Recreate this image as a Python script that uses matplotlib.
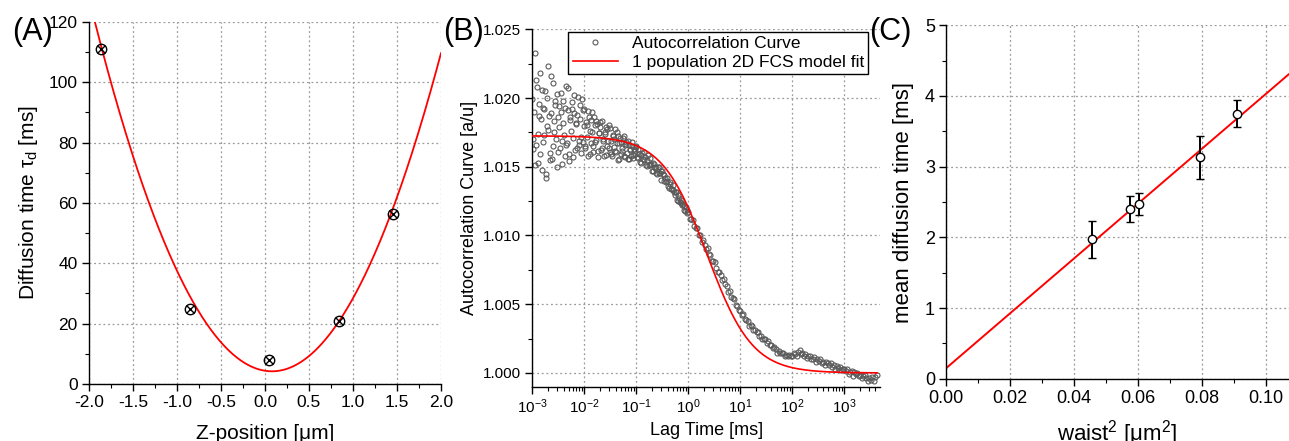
import numpy as np
import matplotlib
matplotlib.use("Agg")
import matplotlib.pyplot as plt
from matplotlib.ticker import MultipleLocator, FormatStrFormatter, LogLocator

plt.rcParams['font.family'] = ['Liberation Sans', 'DejaVu Sans']
plt.rcParams['mathtext.fontset'] = 'custom'
plt.rcParams['mathtext.rm'] = 'Liberation Sans'
plt.rcParams['mathtext.it'] = 'Liberation Sans'
plt.rcParams['mathtext.bf'] = 'Liberation Sans:bold'

# ---- (A) diffusion time vs z-position ----
z_pos = [-1.86, -0.857, 0.045, 0.844, 1.45]
tau_d = [111.2, 24.8, 7.85, 20.9, 56.3]
# parabola fit tau = tau0 + k*(z - z0)^2
fit_a_tau0 = 4.2
fit_a_k = 28.6
fit_a_z0 = 0.08

# ---- (B) autocorrelation curve ----
lag_ms = [
    0.00100, 0.00105, 0.00111, 0.00117, 0.00123, 0.00129, 0.00136, 0.00143, 0.00150, 0.00158,
    0.00167, 0.00175, 0.00184, 0.00194, 0.00204, 0.00215, 0.00226, 0.00238, 0.00251, 0.00264,
    0.00278, 0.00292, 0.00307, 0.00324, 0.00341, 0.00359, 0.00377, 0.00397, 0.00418, 0.00440,
    0.00463, 0.00487, 0.00513, 0.00540, 0.00568, 0.00598, 0.00630, 0.00663, 0.00698, 0.00734,
    0.00773, 0.00813, 0.00856, 0.00901, 0.00949,
    0.0100, 0.0105, 0.0111, 0.0117, 0.0123, 0.0129, 0.0136, 0.0143, 0.0150, 0.0158,
    0.0167, 0.0175, 0.0184, 0.0194, 0.0204, 0.0215, 0.0226, 0.0238, 0.0251, 0.0264,
    0.0278, 0.0292, 0.0307, 0.0324, 0.0341, 0.0359, 0.0377, 0.0397, 0.0418, 0.0440,
    0.0463, 0.0487, 0.0513, 0.0540, 0.0568, 0.0598, 0.0630, 0.0663, 0.0698, 0.0734,
    0.0773, 0.0813, 0.0856, 0.0901, 0.0949,
    0.100, 0.107, 0.114, 0.122, 0.130, 0.139, 0.148, 0.158, 0.169, 0.180,
    0.193, 0.206, 0.220, 0.235, 0.251, 0.268, 0.286, 0.305, 0.326, 0.348,
    0.372, 0.397, 0.424, 0.453, 0.483, 0.516, 0.551, 0.589, 0.628, 0.671,
    0.717, 0.765, 0.817, 0.873, 0.932,
    1.00, 1.07, 1.14, 1.22, 1.30, 1.39, 1.48, 1.58, 1.69, 1.80,
    1.93, 2.06, 2.20, 2.35, 2.51, 2.68, 2.86, 3.05, 3.26, 3.48,
    3.72, 3.97, 4.24, 4.53, 4.83, 5.16, 5.51, 5.89, 6.28, 6.71,
    7.17, 7.65, 8.17, 8.73, 9.32,
    10.0, 10.7, 11.4, 12.2, 13.0, 13.9, 14.8, 15.8, 16.9, 18.0,
    19.3, 20.6, 22.0, 23.5, 25.1, 26.8, 28.6, 30.5, 32.6, 34.8,
    37.2, 39.7, 42.4, 45.3, 48.3, 51.6, 55.1, 58.9, 62.8, 67.1,
    71.7, 76.5, 81.7, 87.3, 93.2,
    100, 107, 114, 122, 130, 139, 148, 158, 169, 180,
    193, 206, 220, 235, 251, 268, 286, 305, 326, 348,
    372, 397, 424, 453, 483, 516, 551, 589, 628, 671,
    717, 765, 817, 873, 932,
    1000, 1070, 1140, 1220, 1300, 1390, 1480, 1580, 1690, 1800,
    1930, 2060, 2200, 2350, 2510, 2680, 2860, 3050, 3260, 3480,
    3720, 3970, 4240,
]
g_acf = [
    1.0199, 1.0170, 1.0233, 1.0166, 1.0208, 1.0153, 1.0187, 1.0218, 1.0148, 1.0193,
    1.0173, 1.0205, 1.0142, 1.0180, 1.0223, 1.0160, 1.0189, 1.0156, 1.0211, 1.0175,
    1.0198, 1.0150, 1.0186, 1.0194, 1.0164, 1.0204, 1.0169, 1.0182, 1.0158, 1.0209,
    1.0167, 1.0191, 1.0154, 1.0184, 1.0197, 1.0171, 1.0202, 1.0162, 1.0181, 1.0188,
    1.0166, 1.0195, 1.0172, 1.0199, 1.0168,
    1.01922, 1.01649, 1.01806, 1.01576, 1.01865, 1.01759, 1.01673, 1.01898, 1.01604, 1.01807,
    1.01693, 1.01813, 1.01611, 1.01744, 1.01827, 1.01635, 1.01703, 1.01576, 1.01750, 1.01786,
    1.01650, 1.01801, 1.01606, 1.01690, 1.01578, 1.01731, 1.01703, 1.01618, 1.01750, 1.01548,
    1.01674, 1.01712, 1.01595, 1.01633, 1.01726, 1.01570, 1.01669, 1.01601, 1.01686, 1.01553,
    1.01626, 1.01654, 1.01565, 1.01630, 1.01590,
    1.01648, 1.01562, 1.01596, 1.01525, 1.01602, 1.01549, 1.01574, 1.01507, 1.01588, 1.01512,
    1.01522, 1.01468, 1.01521, 1.01500, 1.01448, 1.01498, 1.01451, 1.01406, 1.01450, 1.01443,
    1.01387, 1.01396, 1.01346, 1.01391, 1.01336, 1.01333, 1.01297, 1.01317, 1.01254, 1.01272,
    1.01261, 1.01220, 1.01211, 1.01178, 1.01187,
    1.01170, 1.01123, 1.01123, 1.01116, 1.01070, 1.01055, 1.01051, 1.01004, 1.01001, 1.00955,
    1.00966, 1.00934, 1.00903, 1.00909, 1.00868, 1.00859, 1.00817, 1.00812, 1.00808, 1.00763,
    1.00733, 1.00738, 1.00711, 1.00675, 1.00680, 1.00644, 1.00631, 1.00587, 1.00596, 1.00555,
    1.00545, 1.00538, 1.00492, 1.00485, 1.00457,
    1.00449, 1.00422, 1.00426, 1.00389, 1.00388, 1.00379, 1.00344, 1.00346, 1.00341, 1.00310,
    1.00311, 1.00295, 1.00298, 1.00267, 1.00272, 1.00244, 1.00245, 1.00244, 1.00219, 1.00230,
    1.00204, 1.00202, 1.00178, 1.00187, 1.00172, 1.00148, 1.00163, 1.00142, 1.00143, 1.00146,
    1.00120, 1.00129, 1.00120, 1.00133, 1.00120,
    1.00123, 1.00147, 1.00140, 1.00127, 1.00154, 1.00165, 1.00140, 1.00142, 1.00120, 1.00138,
    1.00107, 1.00122, 1.00125, 1.00102, 1.00105, 1.00114, 1.00083, 1.00099, 1.00086, 1.00101,
    1.00072, 1.00082, 1.00061, 1.00082, 1.00070, 1.00059, 1.00075, 1.00046, 1.00057, 1.00031,
    1.00052, 1.00034, 1.00047, 1.00022, 1.00027,
    1.00032, 1.00011, 1.00029, 0.99996, 1.00010, 1.00011, 0.99981, 1.00006, 0.99989, 1.00003,
    0.99976, 0.99984, 0.99963, 0.99981, 0.99984, 0.99961, 0.99945, 0.99966, 0.99948, 0.99968,
    0.99944, 0.99971, 0.99984,
]
# extra (denser) channels in the noisy short-lag region
lag_ms_short = [
    0.00102, 0.00108, 0.00114, 0.00120, 0.00126, 0.00132, 0.00139, 0.00146, 0.00154, 0.00162,
    0.00171, 0.00180, 0.00189, 0.00199, 0.00210, 0.00221, 0.00232, 0.00245, 0.00258, 0.00271,
    0.00285, 0.00300, 0.00316, 0.00332, 0.00350, 0.00368, 0.00387, 0.00408, 0.00429, 0.00451,
    0.00475, 0.00500, 0.00527, 0.00554, 0.00583, 0.00614, 0.00646, 0.00680, 0.00716, 0.00754,
    0.00793, 0.00835, 0.00878, 0.00925, 0.00974,
    0.0102, 0.0108, 0.0114, 0.0120, 0.0126, 0.0132, 0.0139, 0.0146, 0.0154, 0.0162,
    0.0171, 0.0180, 0.0189, 0.0199, 0.0210, 0.0221, 0.0232, 0.0245, 0.0258, 0.0271,
    0.0285, 0.0300, 0.0316, 0.0332, 0.0350, 0.0368, 0.0387, 0.0408, 0.0429, 0.0451,
    0.0475, 0.0500, 0.0527, 0.0554, 0.0583, 0.0614, 0.0646, 0.0680, 0.0716, 0.0754,
    0.0793, 0.0835, 0.0878, 0.0925, 0.0974,
    0.103, 0.110, 0.118, 0.126, 0.134, 0.143, 0.153, 0.163, 0.174, 0.186,
    0.199, 0.213, 0.227, 0.243, 0.259, 0.277, 0.295, 0.315, 0.337, 0.360,
    0.384, 0.410, 0.438, 0.468, 0.500, 0.533, 0.570, 0.608, 0.649, 0.694,
    0.741, 0.791, 0.845, 0.902, 0.964,
]
g_acf_short = [
    1.0163, 1.0190, 1.0151, 1.0213, 1.0174, 1.0196, 1.0159, 1.0185, 1.0206, 1.0168,
    1.0192, 1.0145, 1.0200, 1.0177, 1.0187, 1.0155, 1.0216, 1.0165, 1.0183, 1.0195,
    1.0170, 1.0203, 1.0161, 1.0179, 1.0190, 1.0152, 1.0198, 1.0173, 1.0193, 1.0166,
    1.0207, 1.0159, 1.0186, 1.0176, 1.0192, 1.0157, 1.0189, 1.0182, 1.0164, 1.0201,
    1.0169, 1.0185, 1.0160, 1.0191, 1.0180,
    1.01634, 1.01827, 1.01718, 1.01905, 1.01593, 1.01843, 1.01756, 1.01654, 1.01860, 1.01681,
    1.01833, 1.01568, 1.01747, 1.01788, 1.01622, 1.01836, 1.01689, 1.01741, 1.01587, 1.01772,
    1.01689, 1.01633, 1.01783, 1.01591, 1.01723, 1.01647, 1.01772, 1.01607, 1.01671, 1.01722,
    1.01557, 1.01681, 1.01615, 1.01712, 1.01581, 1.01655, 1.01678, 1.01556, 1.01660, 1.01621,
    1.01577, 1.01678, 1.01588, 1.01615, 1.01647,
    1.01572, 1.01629, 1.01534, 1.01589, 1.01558, 1.01606, 1.01516, 1.01551, 1.01516, 1.01563,
    1.01467, 1.01527, 1.01492, 1.01457, 1.01499, 1.01452, 1.01468, 1.01469, 1.01397, 1.01415,
    1.01416, 1.01358, 1.01377, 1.01336, 1.01365, 1.01318, 1.01313, 1.01259, 1.01291, 1.01246,
    1.01238, 1.01232, 1.01189, 1.01205, 1.01164,
]
# 2D single population fit: G = 1 + G0 / (1 + t/tau)
fit_b_g0 = 0.01725
fit_b_tau = 2.3

# ---- (C) mean diffusion time vs waist^2 ----
waist_sq = [0.0458, 0.0576, 0.0605, 0.0795, 0.0911]
mean_tau = [1.97, 2.40, 2.47, 3.13, 3.75]
mean_tau_err = [0.265, 0.185, 0.16, 0.31, 0.195]
fit_c_slope = 38.8
fit_c_intercept = 0.147

fig = plt.figure(figsize=(12.89, 4.41), dpi=100)
axA = fig.add_axes([0.0690, 0.1293, 0.2731, 0.8209])
axB = fig.add_axes([0.4130, 0.1231, 0.2697, 0.8105])
axC = fig.add_axes([0.7339, 0.1413, 0.2661, 0.8013])

grid_kw = dict(color='#9a9a9a', linestyle=(0, (1.5, 2.2)), linewidth=0.9)


def style_axes(ax, label_size):
    for s in ['top', 'right']:
        ax.spines[s].set_visible(False)
    for s in ['left', 'bottom']:
        ax.spines[s].set_linewidth(1.0)
    ax.tick_params(which='major', direction='out', length=5, width=1.0,
                   labelsize=label_size, pad=3)
    ax.tick_params(which='minor', direction='out', length=3, width=0.8)
    ax.grid(True, which='major', **grid_kw)
    ax.set_axisbelow(True)


# (A)
zz = np.linspace(-2.0, 2.0, 400)
axA.plot(zz, fit_a_tau0 + fit_a_k * (zz - fit_a_z0) ** 2, color='red', lw=1.3, zorder=2)
axA.plot(z_pos, tau_d, 'o', ms=7.5, mfc='none', mec='black', mew=1.0, zorder=3)
axA.plot(z_pos, tau_d, 'x', ms=5.5, mec='black', mew=1.0, zorder=3)
axA.set_xlim(-2.0, 2.0)
axA.set_ylim(0, 120)
axA.xaxis.set_major_locator(MultipleLocator(0.5))
axA.xaxis.set_minor_locator(MultipleLocator(0.25))
axA.yaxis.set_major_locator(MultipleLocator(20))
axA.yaxis.set_minor_locator(MultipleLocator(10))
axA.xaxis.set_major_formatter(FormatStrFormatter('%.1f'))
style_axes(axA, 12.5)
axA.set_xlabel('Z-position [μm]', fontsize=15, labelpad=10)
axA.set_ylabel(r'Diffusion time $\tau_d$ [ms]', fontsize=15, labelpad=6)

# (B)
tt = np.logspace(-3, np.log10(4300), 400)
axB.plot(lag_ms_short, g_acf_short, 'o', ms=3.6, mfc='none', mec='#5a5a5a', mew=0.8,
         zorder=2)
axB.plot(lag_ms, g_acf, 'o', ms=3.6, mfc='none', mec='#5a5a5a', mew=0.8,
         label='Autocorrelation Curve', zorder=2)
axB.plot(tt, 1 + fit_b_g0 / (1 + tt / fit_b_tau), color='red', lw=1.2,
         label='1 population 2D FCS model fit', zorder=3)
axB.set_xscale('log')
axB.set_xlim(1e-3, 4900)
axB.set_ylim(0.999, 1.025)
axB.xaxis.set_major_locator(LogLocator(base=10, numticks=10))
axB.xaxis.set_minor_locator(LogLocator(base=10, subs=np.arange(2, 10), numticks=10))
axB.yaxis.set_major_locator(MultipleLocator(0.005))
axB.yaxis.set_minor_locator(MultipleLocator(0.0025))
axB.yaxis.set_major_formatter(FormatStrFormatter('%.3f'))
style_axes(axB, 11)
axB.set_xlabel('Lag Time [ms]', fontsize=13, labelpad=4)
axB.set_ylabel('Autocorrelation Curve [a/u]', fontsize=13, labelpad=4)
leg = axB.legend(loc='upper right', bbox_to_anchor=(0.966, 0.993), fontsize=12.5,
                 frameon=True, fancybox=False, framealpha=1, edgecolor='black',
                 handlelength=2.6, handletextpad=0.8, borderpad=0.25,
                 labelspacing=0.2, borderaxespad=0, markerscale=1.0)
leg.get_frame().set_linewidth(1.0)

# (C)
ww = np.linspace(0, 0.11, 50)
axC.plot(ww, fit_c_intercept + fit_c_slope * ww, color='red', lw=1.4, zorder=2)
axC.errorbar(waist_sq, mean_tau, yerr=mean_tau_err, fmt='o', ms=6, mfc='white',
             mec='black', mew=1.0, ecolor='black', elinewidth=1.4, capsize=3,
             capthick=1.2, zorder=3)
axC.set_xlim(0, 0.1073)
axC.set_ylim(0, 5)
axC.xaxis.set_major_locator(MultipleLocator(0.02))
axC.xaxis.set_minor_locator(MultipleLocator(0.01))
axC.yaxis.set_major_locator(MultipleLocator(1))
axC.yaxis.set_minor_locator(MultipleLocator(0.5))
axC.xaxis.set_major_formatter(FormatStrFormatter('%.2f'))
style_axes(axC, 13)
axC.set_xlabel('waist$^2$ [μm$^2$]', fontsize=16, labelpad=8)
axC.set_ylabel('mean diffusion time [ms]', fontsize=16, labelpad=8)

# panel letters
fig.text(12 / 1289, 1 - 17 / 441, '(A)', fontsize=22, va='top', ha='left')
fig.text(443 / 1289, 1 - 17 / 441, '(B)', fontsize=22, va='top', ha='left')
fig.text(869 / 1289, 1 - 17 / 441, '(C)', fontsize=22, va='top', ha='left')

fig.savefig('out.png', dpi=100)
